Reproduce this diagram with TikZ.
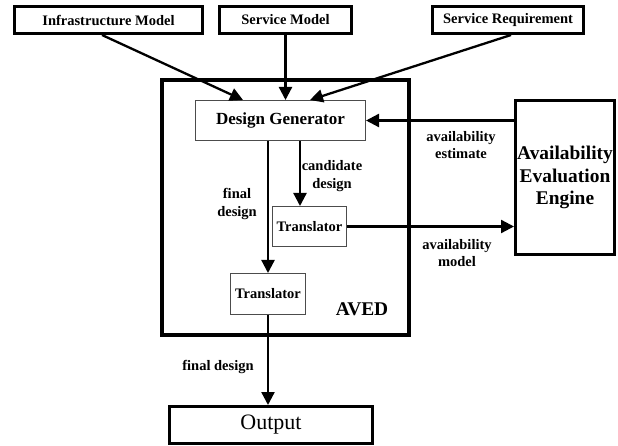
\documentclass[tikz,border=0pt]{standalone}
\usepackage{fontspec}
\setmainfont{Liberation Serif}
\usetikzlibrary{arrows.meta}
\begin{document}
\begin{tikzpicture}[x=1pt,y=-1pt,
  every node/.style={inner sep=0pt, align=center},
  txt/.style={font=\bfseries\fontsize{14.5}{17.5}\selectfont},
  inbox/.style={draw, line width=3pt, txt},
  thinbox/.style={draw=black!70, line width=1pt},
  flow/.style={line width=2.3pt, -{Triangle[length=13pt,width=13pt]}},
  plainline/.style={line width=2.3pt}]
\useasboundingbox (0,0) rectangle (618,446);

% input boxes
\node[inbox, minimum width=188pt, minimum height=27pt] (infra) at (108.5,20) {Infrastructure Model};
\node[inbox, minimum width=132pt, minimum height=27pt] (smodel) at (285.5,20) {Service Model};
\node[inbox, minimum width=151pt, minimum height=27pt] (sreq) at (508,20) {Service Requirement};

% AVED frame and its parts
\node[draw, line width=4pt, minimum width=247pt, minimum height=255pt] (aved) at (285.5,207.5) {};
\node[font=\bfseries\fontsize{19.4}{22}\selectfont] (avedlbl) at (362,309) {AVED};
\node[thinbox, minimum width=170pt, minimum height=40pt, font=\bfseries\fontsize{17}{20}\selectfont] (dg) at (280.5,120.5) {Design Generator};
\node[thinbox, txt, minimum width=74pt, minimum height=40pt] (t1) at (309.5,226.5) {Translator};
\node[thinbox, txt, minimum width=75pt, minimum height=41pt] (t2) at (268,294) {Translator};

% evaluation engine and output
\node[draw, line width=3pt, minimum width=99pt, minimum height=154pt, font=\bfseries\fontsize{19.4}{22.5}\selectfont] (avail) at (565,177.5) {Availability\\Evaluation\\Engine};
\node[draw, line width=3pt, minimum width=203pt, minimum height=37pt, font=\fontsize{22}{24}\selectfont] (out) at (271,425) {Output};

% inputs into the design generator
\draw[flow] ([xshift=-6.5pt]infra.south) -- ([xshift=-37.5pt]dg.north);
\draw[flow] (smodel.south) -- (smodel.south |- dg.north);
\draw[flow] ([xshift=3pt]sreq.south) -- ([xshift=29.5pt]dg.north);

% evaluation loop
\draw[flow] (avail.west |- dg.east) -- (dg.east);
\draw[flow] (t1.east) -- (t1.east -| avail.west);

% design flow
\coordinate (cd) at ([xshift=-9.5pt]t1.north);
\draw[flow] (cd |- dg.south) -- (cd);
\draw[flow] (t2.north |- dg.south) -- (t2.north);
\draw[flow] (t2.south) -- (t2.south |- out.north);

% connector labels
\node[txt] (lcand) at (332,176) {candidate\\design};
\node[txt] (lfin) at (237,204) {final\\design};
\node[txt] (lest) at (461,145) {availability\\estimate};
\node[txt] (lmod) at (457,253) {availability\\model};
\node[txt] (lout) at (218,367) {final design};
\end{tikzpicture}
\end{document}
